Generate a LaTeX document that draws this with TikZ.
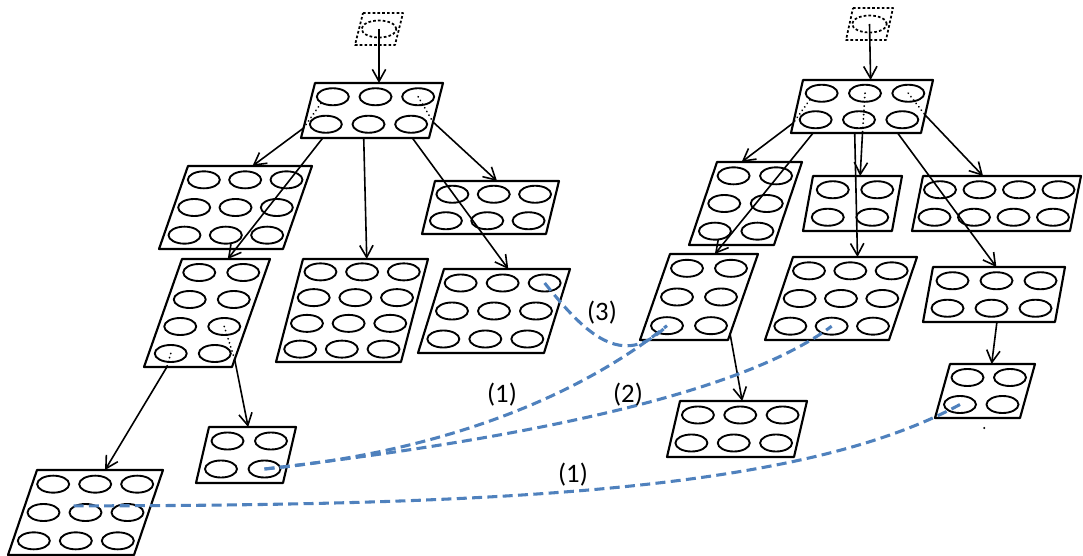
\documentclass[tikz,border=0pt]{standalone}
\usepackage{fontspec}
\setmainfont{Carlito}
\usetikzlibrary{shapes.geometric,arrows.meta,calc}
\definecolor{matchblue}{RGB}{79,129,189}

\tikzset{
  frame/.style={line width=1.6pt, line join=round},
  cell/.style={draw, ellipse, line width=1.4pt, minimum width=24pt,
    minimum height=12.75pt, inner sep=0pt},
  rootbox/.style={line width=1.3pt, dash pattern=on 2pt off 1.6pt,
    minimum width=26pt},
  link/.style={line width=1.2pt, -{Straight Barb[length=9pt,width=10pt]}},
  hint/.style={line width=1.5pt, dash pattern=on 0.01pt off 3.2pt, line cap=round},
  match/.style={draw=matchblue, line width=2.3pt, dash pattern=on 7.5pt off 4pt},
  tag/.style={font=\fontsize{20}{24}\selectfont, inner sep=0pt}
}

% #1 extra style, #2 name, #3/#4 top-left corner, #5 top width,
% #6 height, #7 slant of the lower edge, #8 rows, #9 columns
\newcommand\drawgridbox[9][]{%
  \coordinate (#2-tl) at (#3,#4);
  \coordinate (#2-tr) at ($(#2-tl)+(#5,0)$);
  \coordinate (#2-bl) at ($(#2-tl)+(-#7,#6)$);
  \coordinate (#2-br) at ($(#2-bl)+(#5,0)$);
  \draw[frame,#1] (#2-tl) -- (#2-tr) -- (#2-br) -- (#2-bl) -- cycle;
  \foreach \r in {1,...,#8}{\foreach \c in {1,...,#9}{%
    \node[cell,#1] (#2-\r-\c) at
      ($(#2-tl)+({(\c-0.5)/#9*#5-(\r-0.5)/#8*#7},{(\r-0.5)/#8*#6})$) {};
  }}%
}

\begin{document}
\begin{tikzpicture}[x=0.75pt,y=-0.75pt]
\useasboundingbox (0,0) rectangle (1083,556);

% ---------- left tree ----------
\drawgridbox[rootbox]{L0}{363}{13}{40}{32}{8}{1}{1}
\drawgridbox{L1}{315}{83}{128}{55}{14}{2}{3}
\drawgridbox{L2}{188}{166}{124}{83}{29}{3}{3}
\drawgridbox{L3}{182}{259}{88}{108}{38}{4}{2}
\drawgridbox{L4}{303}{259}{125}{103}{27}{4}{3}
\drawgridbox{L5}{435}{181}{124}{53}{13}{2}{3}
\drawgridbox{L6}{444}{269}{126}{84}{26}{3}{3}
\drawgridbox{L7}{209}{427}{87}{56}{13}{2}{2}
\drawgridbox{L8}{37}{470}{126}{85}{29}{3}{3}

\draw[link] (L0-1-1.center) -- ($(L1-tl)!0.5!(L1-tr)$);
\coordinate (L1-a) at ($(L1-tl)!0.82!(L1-bl)$);
\draw[hint] (L1-1-1.south west) -- (L1-a);
\draw[link] (L1-a) -- ($(L2-tl)!0.52!(L2-tr)$);
\draw[link] ($(L1-bl)!0.17!(L1-br)$) -- ($(L3-tl)!0.52!(L3-tr)$);
\draw[link] ($(L1-bl)!0.49!(L1-br)$) -- ($(L4-tl)!0.51!(L4-tr)$);
\coordinate (L1-d) at ($(L1-tr)!0.71!(L1-br)$);
\draw[hint] (L1-1-3.center) -- (L1-d);
\draw[link] (L1-d) -- ($(L5-tl)!0.5!(L5-tr)$);
\draw[link] ($(L1-bl)!0.87!(L1-br)$) -- ($(L6-tl)!0.51!(L6-tr)$);

\coordinate (L3-a) at ($(L3-bl)!0.26!(L3-br)$);
\draw[hint] (L3-4-1.center) -- (L3-a);
\draw[link] (L3-a) -- ($(L8-tl)!0.54!(L8-tr)$);
\coordinate (L3-b) at ($(L3-tr)!0.93!(L3-br)$);
\draw[hint] (L3-3-2.center) -- (L3-b);
\draw[link] (L3-b) -- ($(L7-tl)!0.45!(L7-tr)$);

% ---------- right tree ----------
\drawgridbox[rootbox]{R0}{853}{8}{40}{32}{7}{1}{1}
\drawgridbox{R1}{803}{80}{130}{53}{12}{2}{3}
\drawgridbox{R2}{717}{162}{85}{83}{28}{3}{2}
\drawgridbox{R3}{813}{176}{89}{55}{10}{2}{2}
\drawgridbox{R4}{923}{176}{158}{55}{11}{2}{4}
\drawgridbox{R5}{670}{254}{88}{86}{30}{3}{2}
\drawgridbox{R6}{793}{257}{124}{83}{28}{3}{3}
\drawgridbox{R7}{933}{267}{132}{55}{10}{2}{3}
\drawgridbox{R8}{680}{401}{127}{56}{13}{2}{3}
\drawgridbox{R9}{950}{364}{85}{54}{15}{2}{2}

\draw[link] (R0-1-1.center) -- ($(R1-tl)!0.52!(R1-tr)$);
\coordinate (R1-a) at ($(R1-tl)!0.81!(R1-bl)$);
\draw[hint] (R1-1-1.south west) -- (R1-a);
\draw[link] (R1-a) -- ($(R2-tl)!0.29!(R2-tr)$);
\draw[link] ($(R1-bl)!0.17!(R1-br)$) -- ($(R5-tl)!0.51!(R5-tr)$);
\coordinate (R1-c) at ($(R1-bl)!0.55!(R1-br)$);
\draw[hint] (R1-1-2.center) -- (R1-c);
\draw[link] (R1-c) -- ($(R3-tl)!0.53!(R3-tr)$);
\draw[link] ($(R1-bl)!0.49!(R1-br)$) -- ($(R6-tl)!0.52!(R6-tr)$);
\coordinate (R1-e) at ($(R1-tr)!0.66!(R1-br)$);
\draw[hint] (R1-1-3.center) -- (R1-e);
\draw[link] (R1-e) -- ($(R4-tl)!0.38!(R4-tr)$);
\draw[link] ($(R1-bl)!0.82!(R1-br)$) -- ($(R7-tl)!0.48!(R7-tr)$);
\draw[link] ($(R5-tr)!0.93!(R5-br)$) -- ($(R8-tl)!0.49!(R8-tr)$);
\draw[link] ($(R7-bl)!0.56!(R7-br)$) -- ($(R9-tl)!0.49!(R9-tr)$);
\coordinate (R9-mark) at ($(R9-bl)!0.58!(R9-br)+(0,10)$);
\fill (R9-mark) circle (0.8pt);

% ---------- correspondences ----------
\draw[match] (L6-1-3.center) .. controls +(40,50) and +(-45,45) .. (R5-3-1.center);
\draw[match] (L7-2-2.center) .. controls +(230,-22) and +(-50,40) .. (R5-3-1.center);
\draw[match] (L7-2-2.center) .. controls +(300,-35) and +(-80,60) .. (R6-3-2.center);
\draw[match] (L8-2-2.north west) .. controls +(450,0) and +(-153,83) .. (R9-2-1.center);

\node[tag] (t3) at (602,313) {(3)};
\node[tag] (t1a) at (502,395) {(1)};
\node[tag] (t2) at (628,395) {(2)};
\node[tag] (t1b) at (573,475) {(1)};
\end{tikzpicture}
\end{document}
